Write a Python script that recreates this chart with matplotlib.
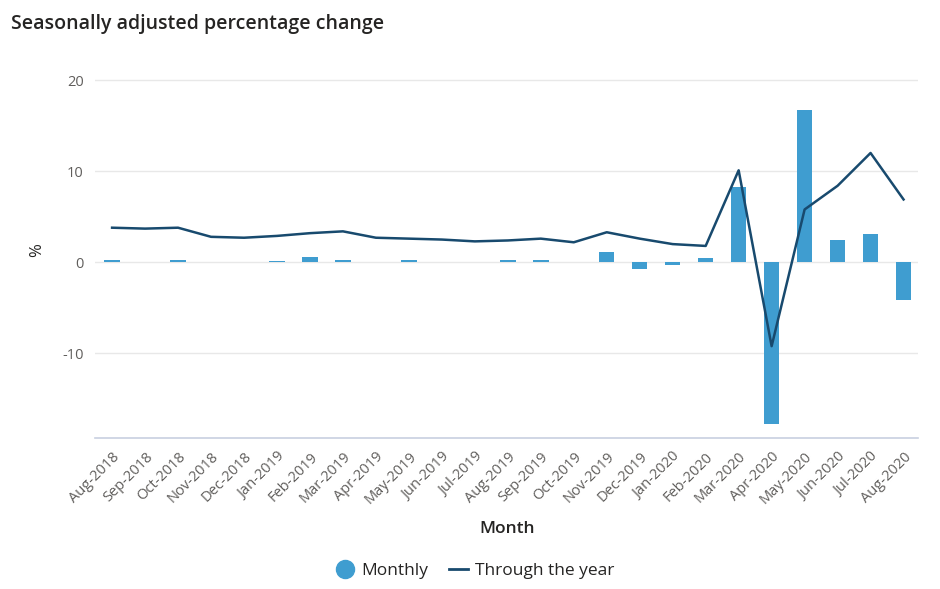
import numpy as np
import matplotlib.pyplot as plt
from matplotlib.lines import Line2D

plt.rcParams['font.family'] = ['Open Sans', 'DejaVu Sans']

# data
months = ['Aug-2018', 'Sep-2018', 'Oct-2018', 'Nov-2018', 'Dec-2018', 'Jan-2019',
          'Feb-2019', 'Mar-2019', 'Apr-2019', 'May-2019', 'Jun-2019', 'Jul-2019',
          'Aug-2019', 'Sep-2019', 'Oct-2019', 'Nov-2019', 'Dec-2019', 'Jan-2020',
          'Feb-2020', 'Mar-2020', 'Apr-2020', 'May-2020', 'Jun-2020', 'Jul-2020',
          'Aug-2020']
monthly = [0.25, 0.0, 0.25, 0.0, 0.0, 0.1, 0.6, 0.25, 0.0, 0.25, 0.0, 0.0,
           0.3, 0.25, 0.0, 1.1, -0.7, -0.3, 0.5, 8.3, -17.7, 16.7, 2.5, 3.1, -4.1]
through_year = [3.8, 3.7, 3.8, 2.8, 2.7, 2.9, 3.2, 3.4, 2.7, 2.6, 2.5, 2.3,
                2.4, 2.6, 2.2, 3.3, 2.6, 2.0, 1.8, 10.1, -9.2, 5.8, 8.4, 12.0, 6.9]
yticks = [-10, 0, 10, 20]

bar_col = '#3f9dd0'
line_col = '#184a6e'

fig = plt.figure(figsize=(9.4, 5.89), dpi=100)
ax = fig.add_axes([0.101, 0.256, 0.876, 0.639])

x = np.arange(len(months))
ax.bar(x, monthly, width=0.47, color=bar_col, linewidth=0,
       label='Monthly', zorder=2)
ax.plot(x, through_year, color=line_col, linewidth=1.8, label='Through the year', zorder=3)

ax.set_xlim(-0.52, 24.45)
ax.set_ylim(-19.3, 22)
ax.set_yticks(yticks)
ax.set_yticklabels([str(v) for v in yticks], fontsize=10.5, color='#605e5c')
ax.set_xticks(x)
ax.set_xticklabels(months, rotation=45, ha='right', rotation_mode='anchor',
                   fontsize=10.5, color='#605e5c')
ax.tick_params(length=0, pad=8)
ax.grid(axis='y', color='#e8e8e8', linewidth=1, zorder=0)
ax.set_axisbelow(True)
for s in ['top', 'right', 'left']:
    ax.spines[s].set_visible(False)
ax.spines['bottom'].set_color('#c8d0e0')
ax.spines['bottom'].set_linewidth(1.2)

ax.set_ylabel('%', fontsize=12, color='#252423')
ax.yaxis.set_label_coords(-0.06, 0.5)
ax.set_xlabel('Month', fontsize=12.5, color='#252423', fontweight='semibold', labelpad=10)

fig.text(0.012, 0.96, 'Seasonally adjusted percentage change', fontsize=14,
         fontweight='semibold', color='#252423', va='center')

# legend
handles = [Line2D([], [], marker='o', linestyle='none', markersize=13,
                  markerfacecolor=bar_col, markeredgecolor=bar_col),
           Line2D([], [], color=line_col, linewidth=2)]
fig.legend(handles, ['Monthly', 'Through the year'], loc='center',
           bbox_to_anchor=(0.505, 0.03), ncol=2, frameon=False, fontsize=12.5,
           handlelength=1.1, handletextpad=0.4, columnspacing=1.2,
           labelcolor='#252423')

fig.savefig('out.png', dpi=100)
